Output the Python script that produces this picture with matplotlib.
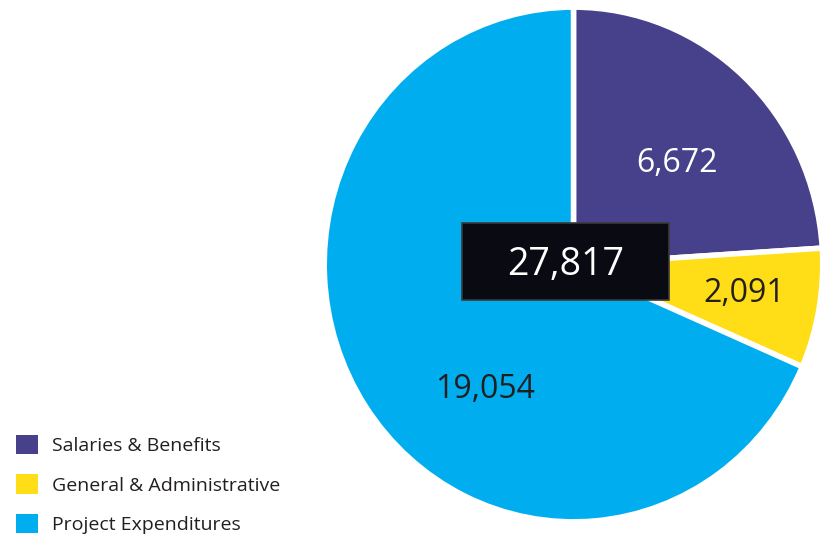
import matplotlib
matplotlib.use("Agg")
import matplotlib.pyplot as plt
from matplotlib.patches import Patch, Rectangle
import numpy as np

categories = ["Salaries & Benefits", "General & Administrative", "Project Expenditures"]
values = [6672, 2091, 19054]
colors = ["#47408A", "#FFDD17", "#00AEEF"]
label_colors = ["white", "#231F20", "#231F20"]

# layout (polar position of each value label, in pie units)
label_pos = [(43.2, 0.577), (-9.5, 0.702), (233.7, 0.607)]

plt.rcParams['font.family'] = ['Open Sans', 'DejaVu Sans']

W, H = 822, 535
fig = plt.figure(figsize=(W / 100, H / 100), dpi=100)
fig.patch.set_facecolor("white")

cx, cy, rx, ry = 573.5, 264.5, 246.5, 254.5
ax = fig.add_axes([(cx - rx) / W, (H - cy - ry) / H, 2 * rx / W, 2 * ry / H])

lw_px = 5.5
wedges, _ = ax.pie(values, colors=colors, startangle=90, counterclock=False,
                   radius=1 + (lw_px / 2) / rx,
                   wedgeprops=dict(edgecolor="white", linewidth=lw_px * 0.72))
ax.set_aspect("auto")
ax.set_xlim(-1, 1)
ax.set_ylim(-1, 1)
ax.axis("off")

for v, c, (ang, r) in zip(values, label_colors, label_pos):
    a = np.deg2rad(ang)
    ax.text(r * np.cos(a), r * np.sin(a), f"{v:,}", color=c, fontsize=23,
            ha="center", va="center")

# total box
bx0, bx1, by0, by1 = 462, 669, 223, 300
ax.add_patch(Rectangle(((bx0 - (cx - rx)) / (2 * rx), (H - by1 - (H - cy - ry)) / (2 * ry)),
                       (bx1 - bx0) / (2 * rx), (by1 - by0) / (2 * ry),
                       transform=ax.transAxes, facecolor="#0A0A12", edgecolor="#3a3a3a",
                       linewidth=1.2, zorder=5, clip_on=False))
ty = (by0 + by1) / 2 + 4
ax.text(((bx0 + bx1) / 2 - (cx - rx)) / (2 * rx), (H - ty - (H - cy - ry)) / (2 * ry),
        f"{sum(values):,}", transform=ax.transAxes, color="white", fontsize=27,
        ha="center", va="center", zorder=6)

handles = [Patch(facecolor=c, edgecolor="none") for c in colors]
fig.legend(handles, categories, loc="upper left", bbox_to_anchor=(16 / W, 1 - 435 / H),
           frameon=False, fontsize=14, handlelength=1.15, handleheight=1.15,
           handletextpad=0.68, labelspacing=0.98, borderpad=0, borderaxespad=0,
           labelcolor="#231F20")

fig.savefig("out.png", dpi=100)
